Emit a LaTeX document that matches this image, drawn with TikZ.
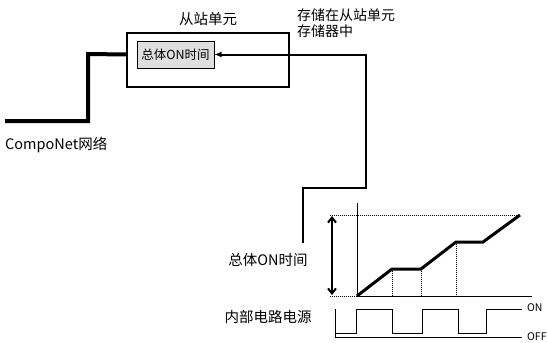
\documentclass[tikz,border=0pt]{standalone}
\usepackage{fontspec}
\setmainfont{Noto Sans CJK SC}
\usetikzlibrary{arrows.meta,calc}
\tikzset{
  txt/.style={inner sep=0pt,font=\fontsize{14.5}{16}\selectfont},
  small/.style={inner sep=0pt,font=\fontsize{10.5}{12}\selectfont},
  level/.style={line width=1pt},
  guide/.style={densely dotted,line width=1pt},
}
\begin{document}
\begin{tikzpicture}[x=1pt,y=-1pt]
    \useasboundingbox (0,0) rectangle (547,343);

    % slave unit
    \node[draw,line width=2pt,minimum width=162pt,minimum height=54pt] (unit) at (208,60) {};
    \node[draw,fill=gray!25,line width=1pt,minimum width=77pt,minimum height=27pt,
      txt,font=\fontsize{12.5}{14}\selectfont] (total) at (175.5,54.5) {总体ON时间};
    \node[txt] (unitlabel) at (208,19) {从站单元};
    \node[txt,anchor=west,align=left,font=\fontsize{14}{16}\selectfont] (store) at (297,23)
      {存储在从站单元\\存储器中};

    % network
    \coordinate (netstart) at (5,121);
    \node[txt,anchor=west] (netlabel) at (5,145) {CompoNet网络};
    \draw[line width=4pt] (netstart) -- (88,121) -- (88,54) -- (unit.west |- total.west);

    % value written back
    \coordinate (storeend) at (303,243);
    \draw[line width=2pt,-{Latex[length=7pt,width=6pt]}]
      (storeend) |- (366,188) |- (total.east);

    % chart
    \coordinate (o) at (357,296);
    \coordinate (top) at (520,215);
    \draw[line width=1pt] (357,203) -- (o) -- (532,296);
    \draw[guide] (330,296) -- (o);
    \draw[guide] (330,215) -- (top);
    \draw[line width=2pt,{Straight Barb[length=5pt,width=8pt]}-{Straight Barb[length=5pt,width=8pt]}]
      (332,216) -- (332,295);
    \draw[line width=3pt] (o) -- (392,269) -- (421,269) -- (456,242) -- (483,242) -- (top);
    \foreach \x/\y in {392/269,421/269,456/242}{
      \draw[guide] (\x,\y) -- (\x,296);
    }
    \node[txt] (ontime) at (268,260) {总体ON时间};

    % internal power
    \node[txt] (power) at (268,317) {内部电路电源};
    \draw[level] (335,309) -- (335,337) -- (522,337);
    \draw[level] (335,333) -- (356,333) -- (356,309) -- (392,309) -- (392,333) -- (422,333)
      -- (422,309) -- (458,309) -- (458,333) -- (486,333) -- (486,309) -- (522,309);
    \node[small,anchor=west] (on) at (527,308) {ON};
    \node[small,anchor=west] (off) at (527,337) {OFF};
\end{tikzpicture}
\end{document}
